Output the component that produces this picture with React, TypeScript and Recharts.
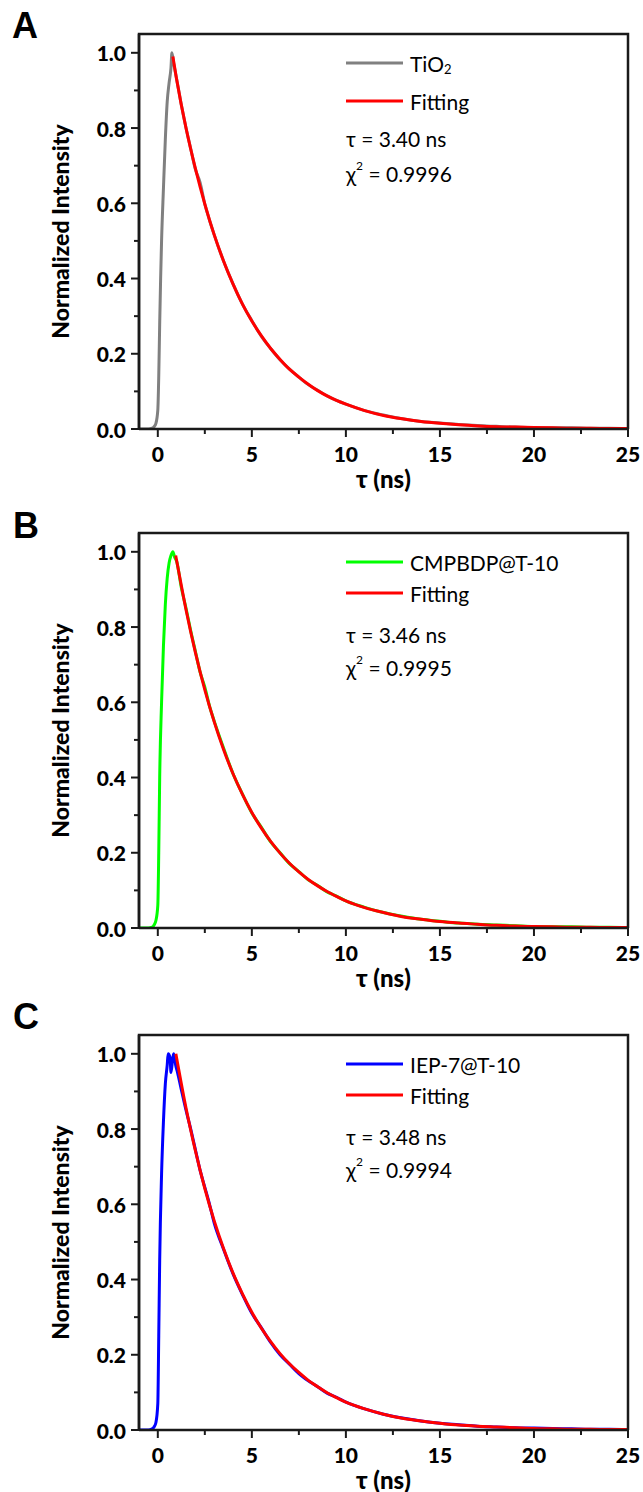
import React from 'react';
import { LineChart, Line, XAxis, YAxis } from 'recharts';

const xTicks = [0, 2.5, 5, 7.5, 10, 12.5, 15, 17.5, 20, 22.5, 25];
const yTicks = [0, 0.1, 0.2, 0.3, 0.4, 0.5, 0.6, 0.7, 0.8, 0.9, 1.0];

// shared tails of the time axis (ns)
const midTimes = [1.25, 1.5, 1.75, 2, 2.25, 2.5, 2.75, 3, 3.5, 4, 4.5, 5, 5.5, 6, 6.5, 7, 7.5, 8, 8.5, 9, 9.5, 10];
const tailTimes = [11, 12, 13, 14, 15, 16, 17, 18, 19, 20, 21, 22, 23, 24, 25];
const fitSteps = [1, 1.5, 2, 2.5, 3, 3.5, 4, 4.5, 5, 5.5, 6, 6.5, 7, 7.5, 8, 8.5, 9, 9.5, 10];

// panel A: TiO2
const timeA = [-1, -0.5, -0.3, -0.2, -0.1, 0, 0.05, 0.1, 0.15, 0.2, 0.3, 0.4, 0.5, 0.6, 0.7, 0.75, 0.85, 1, ...midTimes, ...tailTimes];
const tio2 = [
  0, 0, 0.002, 0.006, 0.015, 0.05, 0.14, 0.28, 0.4, 0.5, 0.64, 0.77, 0.87, 0.92, 0.96, 1.0, 0.97, 0.93,
  0.862, 0.8, 0.745, 0.69, 0.655, 0.598, 0.555, 0.516, 0.446, 0.386, 0.332, 0.288, 0.247, 0.214, 0.184, 0.159,
  0.138, 0.118, 0.103, 0.088, 0.076, 0.066,
  0.049, 0.037, 0.027, 0.02, 0.016, 0.012, 0.009, 0.007, 0.005, 0.004, 0.003, 0.003, 0.002, 0.002, 0.001,
];
const fitTimeA = [0.8, ...fitSteps, ...tailTimes];
const fitA = [
  0.99, 0.93, 0.8, 0.692, 0.598, 0.516, 0.446, 0.385, 0.332, 0.287, 0.248, 0.214, 0.185, 0.159, 0.138, 0.119,
  0.102, 0.088, 0.076, 0.066,
  0.049, 0.036, 0.027, 0.02, 0.015, 0.011, 0.008, 0.006, 0.005, 0.004, 0.003, 0.002, 0.002, 0.001, 0.001,
];

// panel B: CMPBDP@T-10
const timeB = [-1, -0.5, -0.3, -0.2, -0.1, 0, 0.05, 0.1, 0.2, 0.3, 0.4, 0.5, 0.6, 0.7, 0.8, 0.9, 1, ...midTimes, ...tailTimes];
const cmpbdp = [
  0, 0, 0.002, 0.008, 0.02, 0.06, 0.2, 0.4, 0.6, 0.75, 0.86, 0.93, 0.97, 0.99, 1.0, 0.985, 0.975,
  0.905, 0.85, 0.79, 0.735, 0.68, 0.64, 0.59, 0.55, 0.478, 0.41, 0.356, 0.306, 0.268, 0.229, 0.2, 0.171,
  0.15, 0.128, 0.113, 0.096, 0.085, 0.072,
  0.055, 0.041, 0.031, 0.023, 0.018, 0.013, 0.01, 0.008, 0.006, 0.004, 0.003, 0.003, 0.002, 0.002, 0.001,
];
const fitTimeB = [0.95, ...fitSteps, ...tailTimes];
const fitB = [
  0.99, 0.977, 0.846, 0.732, 0.633, 0.548, 0.474, 0.41, 0.355, 0.307, 0.266, 0.23, 0.199, 0.172, 0.149, 0.129,
  0.112, 0.097, 0.084, 0.072,
  0.054, 0.041, 0.03, 0.023, 0.017, 0.013, 0.01, 0.007, 0.005, 0.004, 0.003, 0.002, 0.002, 0.001, 0.001,
];

// panel C: IEP-7@T-10
const timeC = [-1, -0.5, -0.3, -0.2, -0.1, 0, 0.05, 0.1, 0.2, 0.3, 0.4, 0.5, 0.55, 0.65, 0.7, 0.8, 0.85, 0.95, 1.05, ...midTimes, ...tailTimes];
const iep7 = [
  0, 0, 0.003, 0.008, 0.02, 0.07, 0.25, 0.45, 0.68, 0.82, 0.92, 0.97, 1.0, 0.99, 0.95, 0.99, 1.0, 0.97, 0.95,
  0.905, 0.85, 0.8, 0.745, 0.69, 0.645, 0.6, 0.55, 0.48, 0.415, 0.36, 0.31, 0.272, 0.233, 0.2, 0.175,
  0.15, 0.131, 0.115, 0.098, 0.087, 0.074,
  0.056, 0.042, 0.032, 0.024, 0.018, 0.014, 0.01, 0.008, 0.006, 0.005, 0.004, 0.003, 0.002, 0.002, 0.001,
];
const fitTimeC = [0.96, ...fitSteps, ...tailTimes];
const fitC = [
  1.0, 0.989, 0.856, 0.742, 0.642, 0.556, 0.482, 0.417, 0.362, 0.313, 0.271, 0.235, 0.203, 0.176, 0.153, 0.132,
  0.115, 0.099, 0.086, 0.074,
  0.056, 0.042, 0.031, 0.024, 0.018, 0.013, 0.01, 0.008, 0.006, 0.004, 0.003, 0.002, 0.002, 0.001, 0.001,
];

const zip = (ts: number[], vs: number[]) => ts.map((t, i) => ({ t, v: vs[i] }));

const FONT = "Lato, 'Open Sans', 'DejaVu Sans', sans-serif";
const AXIS = '#1a1a1a';

function YTick(props: any) {
  const { x, y, payload } = props;
  const v = payload.value;
  const major = Math.abs(v * 5 - Math.round(v * 5)) < 1e-6;
  return (
    <g>
      <line x1={x} x2={x - (major ? 8 : 5)} y1={y} y2={y} stroke={AXIS} strokeWidth={2} />
      {major && (
        <text x={x - 13} y={y} textAnchor="end" dominantBaseline="central"
          fontFamily={FONT} fontWeight={900} fontSize={21} fill="#000">
          {v.toFixed(1)}
        </text>
      )}
    </g>
  );
}

function XTick(props: any) {
  const { x, y, payload } = props;
  const v = payload.value;
  const major = v % 5 === 0;
  return (
    <g>
      <line x1={x} x2={x} y1={y} y2={y + (major ? 8 : 5)} stroke={AXIS} strokeWidth={2} />
      {major && (
        <text x={x} y={y + 24} textAnchor="middle" dominantBaseline="central"
          fontFamily={FONT} fontWeight={900} fontSize={21} fill="#000">
          {v}
        </text>
      )}
    </g>
  );
}

function YTitle(props: any) {
  const vb = props.viewBox || { y: 34, height: 395 };
  const cy = vb.y + vb.height / 2;
  return (
    <text x={60} y={cy} transform={`rotate(-90 60 ${cy})`} textAnchor="middle" dominantBaseline="central"
      fontFamily={FONT} fontWeight={900} fontSize={23} fill="#000">
      Normalized Intensity
    </text>
  );
}

function XTitle(props: any) {
  const vb = props.viewBox || { x: 139, width: 489 };
  const cx = vb.x + vb.width / 2;
  return (
    <text x={cx} y={478} textAnchor="middle" dominantBaseline="central"
      fontFamily={FONT} fontWeight={900} fontSize={24} fill="#000">
      τ (ns)
    </text>
  );
}

interface PanelProps {
  top: number;
  raw: { t: number; v: number }[];
  fit: { t: number; v: number }[];
  color: string;
  name: React.ReactNode;
  tau: string;
  chi: string;
  rows: number[];
}

function Panel({ top, raw, fit, color, name, tau, chi, rows }: PanelProps) {
  const txt = { fontFamily: FONT, fontSize: 21, fill: '#000' };
  return (
    <div style={{ position: 'absolute', left: 0, top, width: 643, height: 500 }}>
      <LineChart width={643} height={500} margin={{ top: 34, right: 15, bottom: 0, left: 0 }}>
        <XAxis dataKey="t" type="number" domain={[-1, 25]} ticks={xTicks} allowDataOverflow
          height={71} tickSize={0} tickMargin={0} axisLine={{ stroke: AXIS, strokeWidth: 2.5 }} tickLine={false}
          tick={<XTick />} interval={0} label={<XTitle />} />
        <YAxis type="number" domain={[0, 1.05]} ticks={yTicks} allowDataOverflow
          width={139} tickSize={0} tickMargin={0} axisLine={{ stroke: AXIS, strokeWidth: 2.5 }} tickLine={false}
          tick={<YTick />} interval={0} label={<YTitle />} />
        <Line data={raw} dataKey="v" type="monotone" stroke={color} strokeWidth={3}
          dot={false} isAnimationActive={false} />
        <Line data={fit} dataKey="v" type="monotone" stroke="#ff0000" strokeWidth={3}
          dot={false} isAnimationActive={false} />
      </LineChart>
      <svg width={643} height={500} style={{ position: 'absolute', left: 0, top: 0, pointerEvents: 'none' }}>
        <path d="M139 429 V34 H628 V429" fill="none" stroke={AXIS} strokeWidth={2.5} />
        <line x1={346} x2={403} y1={rows[0]} y2={rows[0]} stroke={color} strokeWidth={3} />
        <text x={410} y={rows[0]} dominantBaseline="central" {...txt}>{name}</text>
        <line x1={346} x2={403} y1={rows[1]} y2={rows[1]} stroke="#ff0000" strokeWidth={3} />
        <text x={410} y={rows[1]} dominantBaseline="central" {...txt}>Fitting</text>
        <text x={346} y={rows[2]} dominantBaseline="central" {...txt}>{tau}</text>
        <text x={346} y={rows[3]} dominantBaseline="central" {...txt}>
          χ<tspan dy={-8} fontSize={12}>2</tspan><tspan dy={8}> = {chi}</tspan>
        </text>
      </svg>
    </div>
  );
}

const letterStyle: React.CSSProperties = {
  position: 'absolute', fontFamily: "'Liberation Sans', Arial, sans-serif", fontWeight: 700,
  fontSize: 36, lineHeight: '36px', color: '#000',
};

export default function App() {
  return (
    <div style={{ position: 'absolute', left: 0, top: 0, width: 643, height: 1492, background: '#fff', overflow: 'hidden' }}>
      <Panel top={0} raw={zip(timeA, tio2)} fit={zip(fitTimeA, fitA)} color="#808080"
        name={<>TiO<tspan dy={6} fontSize={13}>2</tspan></>} tau="τ = 3.40 ns" chi="0.9996"
        rows={[63, 101, 138, 173]} />
      <Panel top={499} raw={zip(timeB, cmpbdp)} fit={zip(fitTimeB, fitB)} color="#00ff00"
        name="CMPBDP@T-10" tau="τ = 3.46 ns" chi="0.9995"
        rows={[63, 94, 135, 168]} />
      <Panel top={1001} raw={zip(timeC, iep7)} fit={zip(fitTimeC, fitC)} color="#0000ff"
        name="IEP-7@T-10" tau="τ = 3.48 ns" chi="0.9994"
        rows={[63, 94, 135, 168]} />
      <div style={{ ...letterStyle, left: 12, top: 8 }}>A</div>
      <div style={{ ...letterStyle, left: 13, top: 508 }}>B</div>
      <div style={{ ...letterStyle, left: 13, top: 999 }}>C</div>
    </div>
  );
}
